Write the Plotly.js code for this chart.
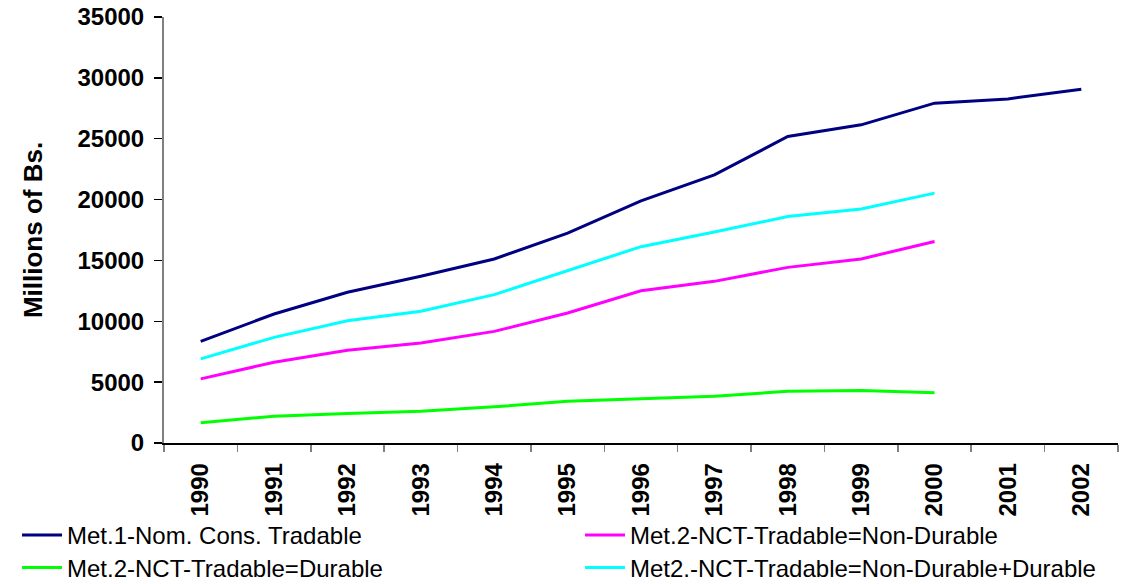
<!DOCTYPE html>
<html>
<head>
<meta charset="utf-8">
<script src="https://cdn.plot.ly/plotly-3.0.1.min.js"></script>
<style>html,body{margin:0;padding:0;background:#fff;}#chart{width:1135px;height:584px;}</style>
</head>
<body>
<div id="chart"></div>
<script>
var years = ["1990","1991","1992","1993","1994","1995","1996","1997","1998","1999","2000","2001","2002"];
var met1NomConsTradable = [8350, 10600, 12380, 13700, 15120, 17250, 19900, 22030, 25180, 26140, 27920, 28270, 29070];
var met2NonDurable = [5270, 6630, 7620, 8220, 9170, 10680, 12510, 13280, 14430, 15120, 16560];
var met2Durable = [1660, 2200, 2420, 2610, 2970, 3430, 3630, 3840, 4250, 4310, 4120];
var met2NonDurablePlusDurable = [6910, 8680, 10050, 10820, 12190, 14160, 16130, 17330, 18610, 19220, 20530];
var seriesNames = [
  "Met.1-Nom. Cons. Tradable",
  "Met.2-NCT-Tradable=Non-Durable",
  "Met.2-NCT-Tradable=Durable",
  "Met2.-NCT-Tradable=Non-Durable+Durable"
];
var seriesColors = ["#000080", "#FF00FF", "#00FF00", "#00FFFF"];
var seriesValues = [met1NomConsTradable, met2NonDurable, met2Durable, met2NonDurablePlusDurable];
var seriesLegend = ["legend", "legend2", "legend3", "legend4"];

var font = "Liberation Sans, Arial, sans-serif";
var traces = seriesValues.map(function(vals, i){
  return {
    type: "scatter",
    mode: "lines",
    x: years.slice(0, vals.length),
    y: vals,
    name: seriesNames[i],
    legend: seriesLegend[i],
    line: {color: seriesColors[i], width: 3}
  };
});

function legendAt(x, y) {
  return {
    orientation: "h",
    xref: "container",
    yref: "container",
    x: x,
    y: y,
    xanchor: "left",
    yanchor: "top",
    font: {family: font, size: 24, color: "#000"},
    bgcolor: "rgba(0,0,0,0)",
    itemwidth: 40
  };
}

var layout = {
  width: 1135,
  height: 584,
  margin: {l: 164, r: 17, t: 17, b: 140.5},
  paper_bgcolor: "#ffffff",
  plot_bgcolor: "#ffffff",
  font: {family: font, color: "#000"},
  showlegend: true,
  xaxis: {
    type: "category",
    categoryarray: years,
    range: [-0.5, 12.5],
    tickangle: -90,
    tickson: "boundaries",
    ticks: "outside",
    ticklen: 7,
    tickcolor: "#808080",
    tickwidth: 1.5,
    showline: true,
    linecolor: "#000",
    linewidth: 1.5,
    showgrid: false,
    zeroline: false,
    tickfont: {family: font, size: 24, color: "#000", weight: "bold"},
    ticklabelstandoff: 9,
    automargin: false,
    fixedrange: true
  },
  yaxis: {
    range: [0, 35000],
    dtick: 5000,
    tick0: 0,
    ticks: "outside",
    ticklen: 8,
    tickcolor: "#000",
    tickwidth: 1.5,
    showline: true,
    linecolor: "#808080",
    linewidth: 2,
    showgrid: false,
    zeroline: false,
    tickformat: "d",
    tickfont: {family: font, size: 24, color: "#000", weight: "bold"},
    ticklabelstandoff: 5,
    title: {text: "Millions of Bs.", font: {family: font, size: 26, color: "#000", weight: "bold"}, standoff: 27},
    automargin: false,
    fixedrange: true
  },
  legend: legendAt(0.015, 0.1216),
  legend2: legendAt(0.511, 0.1216),
  legend3: legendAt(0.015, 0.066),
  legend4: legendAt(0.511, 0.066)
};

Plotly.newPlot("chart", traces, layout, {displayModeBar: false, staticPlot: true});
</script>
</body>
</html>
